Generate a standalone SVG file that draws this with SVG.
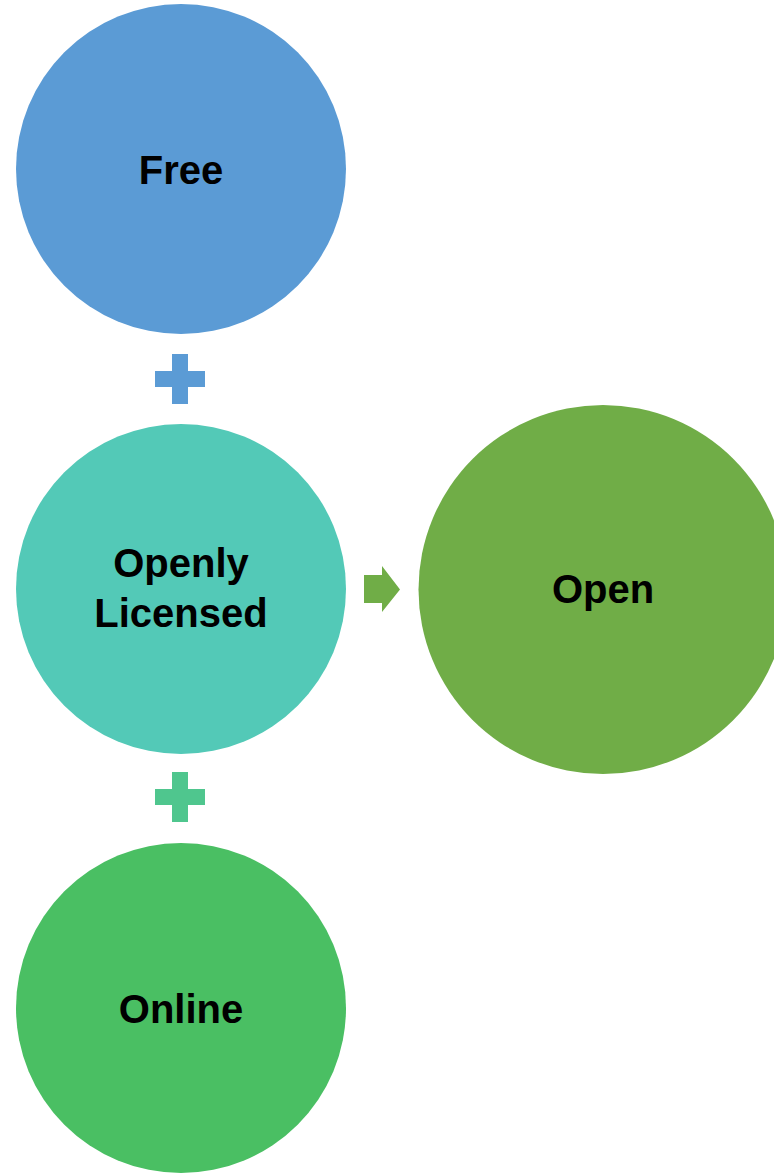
<svg xmlns="http://www.w3.org/2000/svg" width="774" height="1173" viewBox="0 0 774 1173">
<style>
text{font-family:"Liberation Sans",Arial,sans-serif;font-weight:bold;font-size:40px;fill:#000;text-anchor:middle}
</style>
<rect width="774" height="1173" fill="#fff"/>
<g id="connectors">
<path d="M172 354h16v17h17v16h-17v17h-16v-17h-17v-16h17z" fill="#5b9bd5"/>
<path d="M172 772h16v17h17v16h-17v17h-16v-17h-17v-16h17z" fill="#4fc68e"/>
<path d="M364 575h18v-9l18 23.5l-18 22.5v-9h-18z" fill="#70ad47"/>
</g>
<g id="free"><circle cx="181" cy="169" r="165" fill="#5b9bd5"/><text x="181" y="184">Free</text></g>
<g id="openly"><circle cx="181" cy="589" r="165" fill="#53c9b7"/><text x="181" y="577">Openly</text><text x="181" y="627">Licensed</text></g>
<g id="online"><circle cx="181" cy="1008" r="165" fill="#4abf63"/><text x="181" y="1023">Online</text></g>
<g id="open"><circle cx="603" cy="589.5" r="184.5" fill="#70ad47"/><text x="603" y="603">Open</text></g>
</svg>
